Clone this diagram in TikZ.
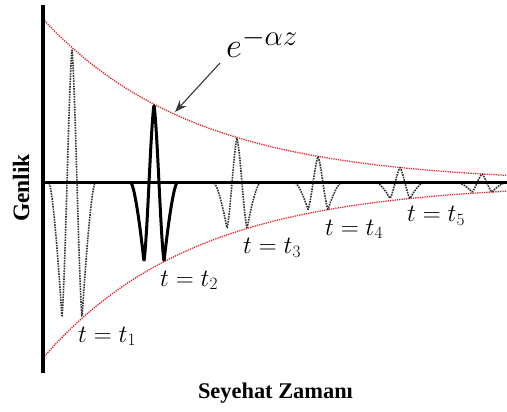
\documentclass[tikz,border=0pt]{standalone}
\usepackage{fontspec}
\newfontfamily\lserif{Liberation Serif}
\usetikzlibrary{arrows.meta}
\definecolor{envred}{RGB}{225,40,45}
\definecolor{arrowgray}{RGB}{55,55,55}
\begin{document}
\begin{tikzpicture}[x=1pt,y=-1pt,
  declare function={
    upA(\z)=164*exp(-0.0066*(\z-43));
    loA(\z)=175*exp(-0.0066*(\z-43));
    hw(\z)=(abs(\z)<10.0001) ? (0.5*cos(18*\z)+0.5*(1-abs(\z)/5)) : (0-pow(max(23-abs(\z),0.001)/13,1.5));
  },
  envelope/.style={envred, densely dotted, line width=1.3pt},
  wave/.style={black!80, densely dotted, line width=1.6pt},
  boldwave/.style={black, line width=3pt, line join=round},
  axisline/.style={black, line width=4.5pt},
  zeroline/.style={black, line width=3pt},
  timelabel/.style={anchor=base west, inner sep=0pt, font=\fontsize{24.5}{28}\selectfont},
  axislabel/.style={inner sep=0pt, font=\lserif\bfseries\fontsize{22.4}{26}\selectfont},
]
\useasboundingbox (0,0) rectangle (507,412);
% envelopes
\draw[envelope] plot[domain=43:507, samples=120] (\x, {183-upA(\x)});
\draw[envelope] plot[domain=43:507, samples=120] (\x, {183+loA(\x)});
% dotted wavelets
\foreach \p in {72,237,318,400,482}{
  \draw[wave] plot[domain=-23:23, samples=116] ({\p+\x}, {183-(hw(\x)>0 ? upA(\p) : loA(\p+10))*hw(\x)});
}
% axes
\draw[zeroline] (42,183) -- (507,183);
\draw[axisline] (43,5) -- (43,373);
% bold wavelet
\draw[boldwave] plot[domain=-23:23, samples=116] ({154+\x}, {183-(hw(\x)>0 ? upA(154) : loA(164))*hw(\x)});
% labels
\node[timelabel] (t1) at (78,342) {$t=t_1$};
\node[timelabel] (t2) at (160,286) {$t=t_2$};
\node[timelabel] (t3) at (243,254) {$t=t_3$};
\node[timelabel] (t4) at (325,235) {$t=t_4$};
\node[timelabel] (t5) at (407,222) {$t=t_5$};
\node[anchor=base west, inner sep=0pt, font=\fontsize{24.88}{28}\selectfont] (att) at (226,58) {\scalebox{1.4}{$e^{-\alpha z}$}};
\coordinate (arrowtail) at (220,63);
\coordinate (arrowtip) at (175,112);
\draw[arrowgray, line width=1.1pt, -{Stealth[length=12pt,width=9pt]}] (arrowtail) -- (arrowtip);
\node[axislabel, font=\lserif\bfseries\fontsize{23.5}{27}\selectfont, rotate=90, anchor=base] (genlik) at (29,188) {Genlik};
\node[axislabel, anchor=base] (zaman) at (275.5,398) {Seyehat Zamanı};
\end{tikzpicture}
\end{document}
